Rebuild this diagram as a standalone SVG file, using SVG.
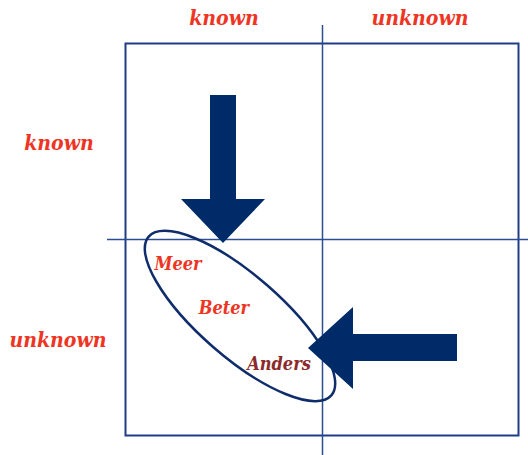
<svg xmlns="http://www.w3.org/2000/svg" width="528" height="455" viewBox="0 0 528 455">
<style>
.lbl{font-family:"DejaVu Serif","Liberation Serif",serif;font-style:italic;font-weight:bold;font-stretch:condensed;fill:#ee3524;}
.ax{font-size:21px;}
.in{font-size:18px;}
.grid{stroke:#2d4e8e;stroke-width:1.5;fill:none;}
.arrow{fill:#002b69;}
</style>
<rect width="528" height="455" fill="#ffffff"/>
<g id="frame">
<rect x="125.5" y="43.5" width="393" height="392" fill="none" stroke="#1e3d85" stroke-width="2"/>
</g>
<g id="axes">
<line class="grid" x1="107" y1="239.5" x2="528" y2="239.5"/>
<line class="grid" x1="322.5" y1="25" x2="322.5" y2="455"/>
</g>
<g id="labels">
<text class="lbl ax" x="224" y="25" text-anchor="middle">known</text>
<text class="lbl ax" x="420" y="25" text-anchor="middle">unknown</text>
<text class="lbl ax" x="59" y="150" text-anchor="middle">known</text>
<text class="lbl ax" x="58" y="347" text-anchor="middle">unknown</text>
</g>
<g id="ellipse">
<ellipse cx="240" cy="316" rx="121" ry="41" transform="rotate(41 240 316)" fill="none" stroke="#0f2d6b" stroke-width="2.5"/>
<text class="lbl in" x="178" y="270" text-anchor="middle">Meer</text>
<text class="lbl in" x="224" y="314" text-anchor="middle">Beter</text>
<text class="lbl in" x="279" y="370" text-anchor="middle" style="fill:#8c2a2a">Anders</text>
</g>
<g id="connectors">
<polygon id="arrow-down" class="arrow" points="210,95 236,95 236,199 265,199 223,243 181,199 210,199"/>
<polygon id="arrow-left" class="arrow" points="457,334 457,361 353,361 353,389 308,348 353,307 353,334"/>
</g>
</svg>
